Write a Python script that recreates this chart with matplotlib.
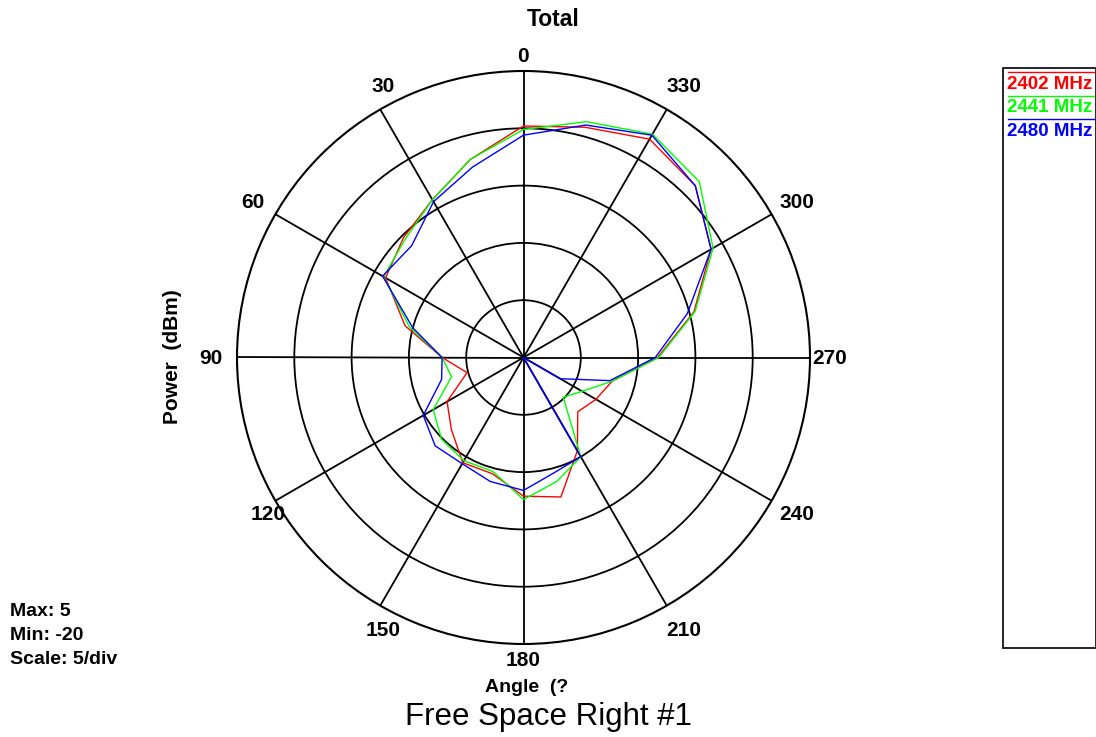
import numpy as np
import matplotlib
matplotlib.use("Agg")
import matplotlib.pyplot as plt
from matplotlib.lines import Line2D
from matplotlib.patches import Rectangle

# ---- data ----
angles_deg = [0, 15, 30, 45, 60, 75, 90, 105, 120, 135, 150, 165,
              180, 195, 210, 225, 240, 255, 270, 285, 300, 315, 330, 345]
p2402 = [0.2, -2.1, -4.1, -5.2, -6.1, -9.3, -12.9, -14.9, -12.3, -11.1, -9.4, -9.5,
         -7.9, -7.4, -10.6, -13.3, -12.7, -12.0, -8.3, -4.6, -1.1, 1.2, 2.0, 0.8]
p2441 = [-0.1, -2.1, -4.1, -5.4, -5.9, -9.7, -12.9, -13.5, -10.9, -9.9, -9.6, -9.7,
         -7.6, -8.8, -10.0, -15.1, -14.1, -12.0, -8.2, -4.5, -0.9, 1.7, 2.5, 1.3]
p2480 = [-0.6, -2.8, -4.3, -6.2, -5.8, -10.0, -12.9, -12.6, -9.9, -9.1, -9.3, -8.8,
         -8.4, -9.6, -10.0, -20.0, -16.3, -12.2, -8.5, -5.2, -1.1, 1.2, 2.4, 1.0]
series_labels = ["2402 MHz", "2441 MHz", "2480 MHz"]
series_colors = ["#ff0000", "#00ff00", "#0000ff"]
r_min, r_max, r_step = -20, 5, 5
theta_ticks = list(range(0, 360, 30))

W, H = 1096, 737
plt.rcParams['font.family'] = ['Liberation Sans', 'DejaVu Sans']
fig = plt.figure(figsize=(W / 100, H / 100), dpi=100)

cx, cy, R = 523.5, 357.5, 286.5
ax = fig.add_axes([(cx - R) / W, (H - cy - R) / H, 2 * R / W, 2 * R / H], projection='polar')
ax.set_theta_zero_location('N')
ax.set_theta_direction(1)
ax.set_ylim(r_min, r_max)
ax.set_rticks(list(range(r_min + r_step, r_max, r_step)))
ax.set_yticklabels([])
ax.set_thetagrids(theta_ticks, labels=[])
ax.grid(True, color='black', linewidth=1.3, linestyle='-')
ax.spines['polar'].set_color('black')
ax.spines['polar'].set_linewidth(1.5)
ax.tick_params(length=0)

for vals, col in zip([p2402, p2441, p2480], series_colors):
    th = np.deg2rad(angles_deg + [angles_deg[0]])
    ax.plot(th, vals + [vals[0]], color=col, linewidth=1.0, clip_on=False)

label_pos = {0: (523, 56), 30: (383, 87), 330: (684, 87), 60: (253, 202), 300: (797, 202),
             90: (211, 358), 270: (830, 358), 120: (268, 514), 240: (797, 514),
             150: (383, 630), 210: (684, 630), 180: (523, 660)}
for t in theta_ticks:
    x, y = label_pos[t]
    fig.text(x / W, 1 - y / H, str(t), ha='center', va='center',
             fontsize=15, fontweight='bold')

fig.text(553 / W, 1 - 20 / H, "Total", ha='center', va='center', fontsize=16.5, fontweight='bold')
fig.text(172 / W, 1 - 357 / H, "Power  (dBm)", ha='center', va='center', rotation=90,
         fontsize=15, fontweight='bold')
fig.text(527 / W, 1 - 688 / H, "Angle  (?", ha='center', va='center', fontsize=14, fontweight='bold')
fig.text(548 / W, 1 - 717 / H, "Free Space Right #1", ha='center', va='center', fontsize=22.5)

for i, s in enumerate(["Max: 5", "Min: -20", "Scale: 5/div"]):
    fig.text(10 / W, 1 - (611 + i * 24) / H, s, ha='left', va='center', fontsize=14, fontweight='bold')

# legend box
fig.patches.append(Rectangle((1003 / W, 1 - 648 / H), (1095.5 - 1003) / W, (648 - 68) / H,
                             transform=fig.transFigure, facecolor='white', edgecolor='black',
                             linewidth=1.2, zorder=0))
for i, (lab, col) in enumerate(zip(series_labels, series_colors)):
    ly = 72 + i * 23.5
    fig.lines.append(Line2D([1008 / W, 1094 / W], [1 - ly / H, 1 - ly / H], color=col,
                            linewidth=1.0, transform=fig.transFigure))
    fig.text(1007 / W, 1 - (ly + 12.5) / H, lab, ha='left', va='center', color=col,
             fontsize=13.5, fontweight='bold')

fig.savefig("out.png", dpi=100, facecolor='white')
